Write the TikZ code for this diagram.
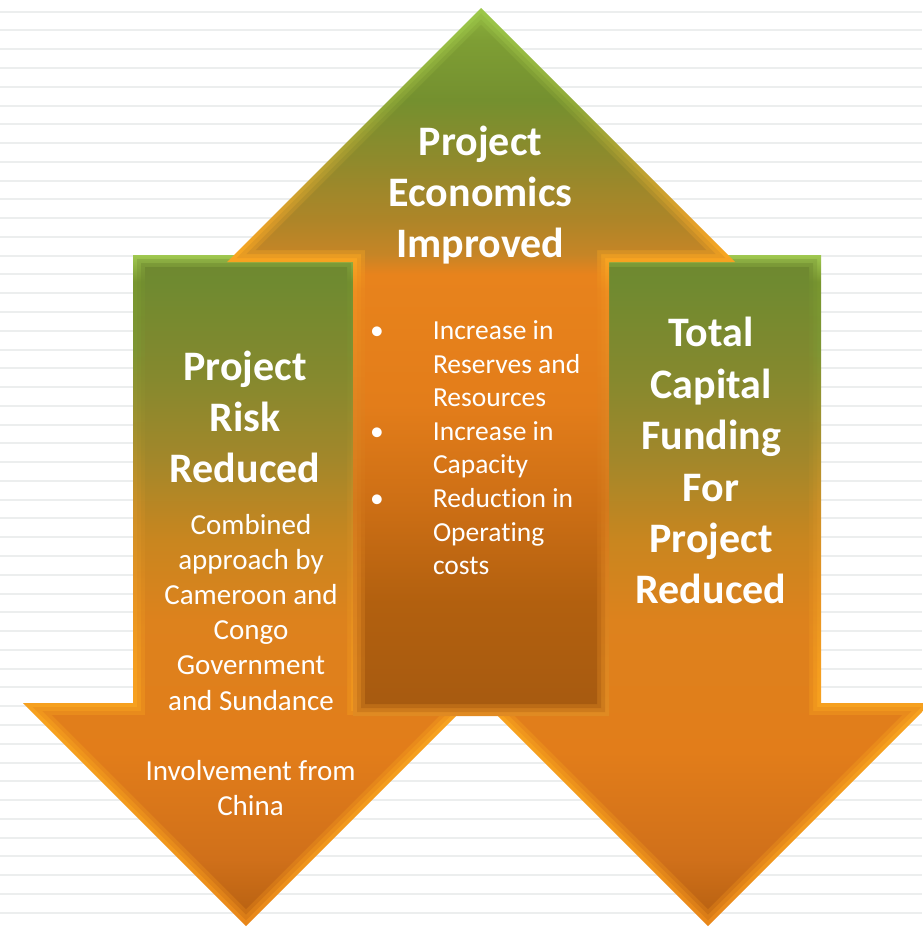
\documentclass[tikz,border=0pt]{standalone}
\usepackage{fontspec}
\setmainfont[Ligatures=NoCommon]{Carlito}
\usetikzlibrary{calc}

% down arrows, main fill
\definecolor{dmA}{HTML}{B45F10}
\definecolor{dmB}{HTML}{D0701A}
\definecolor{dmC}{HTML}{E27D1A}
\definecolor{dmD}{HTML}{DD821D}
\definecolor{dmE}{HTML}{C9861F}
\definecolor{dmF}{HTML}{A3872A}
\definecolor{dmG}{HTML}{86892E}
\definecolor{dmH}{HTML}{6F8A30}
\definecolor{dmI}{HTML}{6E8830}
% down arrows, bevel
\definecolor{deA}{HTML}{E8861A}
\definecolor{deAB}{HTML}{F0961C}
\definecolor{deB}{HTML}{F7A21F}
\definecolor{deC}{HTML}{F59E1F}
\definecolor{deD}{HTML}{E69322}
\definecolor{deE}{HTML}{CE9027}
\definecolor{deF}{HTML}{A2902E}
\definecolor{deG}{HTML}{7E9533}
\definecolor{deH}{HTML}{78962F}
\definecolor{deI}{HTML}{A0C850}
% middle arrow, main fill
\definecolor{mmA}{HTML}{A65A10}
\definecolor{mmB}{HTML}{B2600F}
\definecolor{mmC}{HTML}{CD6F15}
\definecolor{mmD}{HTML}{E37D1A}
\definecolor{mmE}{HTML}{E8831C}
\definecolor{mmF}{HTML}{C68526}
\definecolor{mmG}{HTML}{AE8528}
\definecolor{mmH}{HTML}{8F8A2C}
\definecolor{mmI}{HTML}{74902F}
\definecolor{mmJ}{HTML}{7E9E34}
\definecolor{mmK}{HTML}{8DB33E}
% middle arrow, bevel
\definecolor{meA}{HTML}{E08A22}
\definecolor{meB}{HTML}{D47A1C}
\definecolor{meBC}{HTML}{E08420}
\definecolor{meC}{HTML}{EE8E20}
\definecolor{meD}{HTML}{F8A621}
\definecolor{meE}{HTML}{E2A02A}
\definecolor{meF}{HTML}{B8A232}
\definecolor{meG}{HTML}{90A838}
\definecolor{meH}{HTML}{9CC84A}
\definecolor{ruleline}{HTML}{ECEEEE}

\pgfdeclareverticalshading{downmain}{100bp}{color(0bp)=(dmA); color(25bp)=(dmA); color(30bp)=(dmB); color(38bp)=(dmC); color(47.8bp)=(dmD); color(53.7bp)=(dmE); color(59.7bp)=(dmF); color(65.7bp)=(dmG); color(73bp)=(dmH); color(75bp)=(dmI); color(100bp)=(dmI)}
\pgfdeclareverticalshading{downedge}{100bp}{color(0bp)=(deA); color(25bp)=(deA); color(30bp)=(deAB); color(40bp)=(deB); color(44bp)=(deC); color(50bp)=(deD); color(56bp)=(deE); color(62bp)=(deF); color(68bp)=(deG); color(73bp)=(deH); color(75bp)=(deI); color(100bp)=(deI)}
\pgfdeclareverticalshading{midmain}{100bp}{color(0bp)=(mmA); color(25bp)=(mmA); color(33bp)=(mmB); color(40bp)=(mmC); color(47bp)=(mmD); color(56.2bp)=(mmE); color(57.6bp)=(mmF); color(60bp)=(mmG); color(64.3bp)=(mmH); color(68.5bp)=(mmI); color(72.7bp)=(mmJ); color(75bp)=(mmK); color(100bp)=(mmK)}
\pgfdeclareverticalshading{midedge}{100bp}{color(0bp)=(meA); color(25bp)=(meA); color(40bp)=(meB); color(47bp)=(meBC); color(55bp)=(meC); color(57.5bp)=(meD); color(60bp)=(meE); color(64bp)=(meF); color(68bp)=(meG); color(75bp)=(meH); color(100bp)=(meH)}

\tikzset{
  txt/.style={text=white, inner sep=0pt, outer sep=0pt},
  headtxt/.style={txt, font=\bfseries\fontsize{42}{51}\selectfont, anchor=north},
  bodytxt/.style={txt, font=\fontsize{29}{35.2}\selectfont, anchor=north},
  listtxt/.style={txt, font=\fontsize{27.5}{33.6}\selectfont, anchor=north west},
}
\newcommand{\bul}{\makebox[63pt][l]{•}}
% down arrow outline: #1 centre x, #2 inset
\newcommand{\downpath}[2]{({#1-113+#2},{255+#2}) -- ({#1+113-#2},{255+#2}) -- ({#1+113-#2},{703+#2}) -- ({#1+223-2.414*#2},{703+#2}) -- (#1,{926-1.414*#2}) -- ({#1-223+2.414*#2},{703+#2}) -- ({#1-113+#2},{703+#2}) -- cycle}
% up arrow outline: #1 centre x, #2 inset
\newcommand{\uppath}[2]{(#1,{8+1.414*#2}) -- ({#1+254-2.414*#2},{262-#2}) -- ({#1+128-#2},{262-#2}) -- ({#1+128-#2},{716-#2}) -- ({#1-128+#2},{716-#2}) -- ({#1-128+#2},{262-#2}) -- ({#1-254+2.414*#2},{262-#2}) -- cycle}
% soft bevel: #1 path macro, #2 centre, #3 edge shading, #4 main shading, #5 y top, #6 y bottom
\newcommand{\softbevel}[6]{%
  \begin{scope}\clip #1{#2}{0}; \shade[shading=#3] (0,#5) rectangle (940,#6);\end{scope}
  \begin{scope}\clip #1{#2}{4}; \shade[shading=#4, opacity=0.3] (0,#5) rectangle (940,#6);\end{scope}
  \begin{scope}\clip #1{#2}{8}; \shade[shading=#4, opacity=0.45] (0,#5) rectangle (940,#6);\end{scope}
  \begin{scope}\clip #1{#2}{12}; \shade[shading=#4] (0,#5) rectangle (940,#6);\end{scope}
}

\begin{document}
\begin{tikzpicture}[x=1pt,y=-1pt]
\useasboundingbox (0,0) rectangle (922,927);
\fill[white] (0,0) rectangle (922,927);
% ruled background
\foreach \k in {0,...,48}{
  \draw[ruleline, line width=2pt] (0,{11.7+18.77*\k}) -- (922,{11.7+18.77*\k});
}

% left and right down arrows, then the middle up arrow in front
\softbevel{\downpath}{246}{downedge}{downmain}{255}{926}
\softbevel{\downpath}{708}{downedge}{downmain}{255}{926}
\softbevel{\uppath}{481}{midedge}{midmain}{8}{716}

% ---- texts ----
\node[headtxt] (econ) at (480.5,119.3) {\begin{tabular}{@{}c@{}}Project\\Economics\\Improved\end{tabular}};
\node[listtxt] (list) at (370,316) {\begin{tabular}{@{}l@{}l@{}}\bul&Increase in\\ &Reserves and\\ &Resources\\ \bul&Increase in\\ &Capacity\\ \bul&Reduction in\\ &Operating\\ &costs\end{tabular}};
\node[headtxt] (risk) at (245,344.3) {\begin{tabular}{@{}c@{}}Project\\Risk\\Reduced\end{tabular}};
\node[bodytxt] (combined) at (251,509.4) {\begin{tabular}{@{}c@{}}Combined\\approach by\\Cameroon and\\Congo\\Government\\and Sundance\end{tabular}};
\node[bodytxt] (china) at (250.5,755.5) {\begin{tabular}{@{}c@{}}Involvement from\\China\end{tabular}};
\node[headtxt, font=\bfseries\fontsize{42}{51.4}\selectfont] (capital) at (711,311) {\begin{tabular}{@{}c@{}}Total\\Capital\\Funding\\For\\Project\\Reduced\end{tabular}};
\end{tikzpicture}
\end{document}
